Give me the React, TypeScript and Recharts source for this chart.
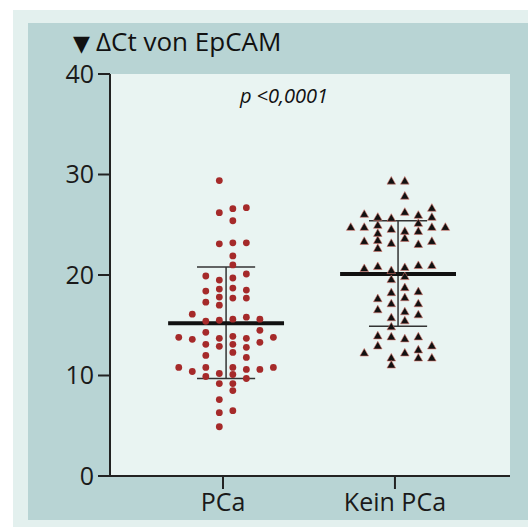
import { ScatterChart, Scatter, XAxis, YAxis, CartesianGrid, ReferenceLine } from "recharts";

const CATEGORIES = ["PCa", "Kein PCa"];
const Y_TICKS = [0, 10, 20, 30, 40];

// ΔCt values per patient
const PCA_VALUES = [
  29.4, 26.2, 26.6, 26.7, 25.4, 23.1, 23.2, 23.2, 21.9, 21.0,
  19.9, 19.5, 19.7, 20.1, 18.4, 18.6, 18.7, 18.5, 17.8, 17.7,
  17.7, 17.3, 17.0, 16.1, 15.4, 15.5, 15.6, 15.8, 15.6, 14.3,
  14.5, 13.8, 13.6, 13.7, 13.9, 13.7, 13.8, 13.3, 13.1, 12.9,
  13.1, 12.8, 12.3, 12.0, 11.8, 10.8, 10.4, 10.8, 10.2, 10.8,
  10.6, 10.6, 10.8, 9.9, 10.1, 9.7, 9.2, 9.2, 8.5, 7.6,
  6.3, 6.5, 4.9,
];
// swarm column of each point (layout only)
const PCA_SLOTS = [
  -0.5, -0.5, 0.5, 1.5, 0.5, -0.5, 0.5, 1.5, 0.5, 0.5,
  -1.5, -0.5, 0.5, 1.5, -1.5, -0.5, 0.5, 1.5, -0.5, 0.5,
  1.5, -1.5, -0.5, -2.5, -1.5, -0.5, 0.5, 1.5, 2.5, -1.5,
  2.5, -3.5, -2.5, -0.5, 0.5, 1.5, 3.5, 2.5, -1.5, -0.5,
  0.5, 1.5, 0.5, -1.5, 1.5, -3.5, -2.5, -1.5, -0.5, 0.5,
  1.5, 2.5, 3.5, -1.5, 0.5, 1.5, -0.5, 0.5, 0.5, -0.5,
  -0.5, 0.5, -0.5,
];

const KEIN_VALUES = [
  29.4, 29.4, 27.9, 26.1, 25.8, 25.7, 26.3, 26.0, 26.7, 25.8,
  24.8, 24.8, 25.0, 24.2, 24.6, 24.4, 25.2, 24.4, 24.8, 24.8,
  23.4, 23.5, 23.2, 23.7, 23.1, 23.4, 22.7, 20.7, 20.9, 20.5,
  20.8, 21.0, 21.0, 19.6, 19.9, 18.8, 18.3, 18.4, 17.7, 17.8,
  17.2, 17.2, 16.6, 16.4, 16.1, 15.8, 15.5, 14.9, 14.0, 13.9,
  13.7, 13.9, 13.0, 13.0, 12.6, 12.3, 12.3, 11.8, 11.8, 11.8,
  11.1,
];
const KEIN_SLOTS = [
  -0.5, 0.5, 0.5, -2.5, -1.5, -0.5, 0.5, 1.5, 2.5, 2.5,
  -3.5, -2.5, -1.5, -1.5, -0.5, 0.5, 1.5, 1.5, 2.5, 3.5,
  -2.5, -1.5, -0.5, 0.5, 1.5, 2.5, -1.5, -2.5, -1.5, -0.5,
  0.5, 1.5, 2.5, -0.5, 0.5, 0.5, -0.5, 1.5, -1.5, 0.5,
  -0.5, 1.5, -1.5, 0.5, 1.5, -0.5, 0.5, -0.5, -1.5, -0.5,
  0.5, 1.5, -1.5, 2.5, 1.5, -2.5, 0.5, -0.5, 1.5, 2.5,
  -0.5,
];

const MEANS = [15.2, 20.1];
const SD_LOW = [9.7, 14.9];
const SD_HIGH = [20.8, 25.4];

const SLOT_W = 0.0786;
const SHIFT = 0.018;
const MEAN_HALF = 0.337;
const CAP_HALF = 0.169;

const toPoints = (values: number[], slots: number[], cat: number) =>
  values.map((v, i) => ({ x: cat + SHIFT + slots[i] * SLOT_W, y: v }));

const pcaData = toPoints(PCA_VALUES, PCA_SLOTS, 1);
const keinData = toPoints(KEIN_VALUES, KEIN_SLOTS, 2);

const Dot = (p: any) => <circle cx={p.cx} cy={p.cy} r={3.4} fill="#a52a2a" />;

const Tri = (p: any) => (
  <polygon
    points={`${p.cx},${p.cy - 4} ${p.cx + 4.3},${p.cy + 3.6} ${p.cx - 4.3},${p.cy + 3.6}`}
    fill="#111"
    stroke="#d8766c"
    strokeWidth={0.6}
  />
);

const FONT = "'Open Sans', sans-serif";

export default function App() {
  return (
    <div style={{ position: "absolute", left: 0, top: 0, width: 528, height: 527, background: "#fff", overflow: "hidden" }}>
      <div style={{ position: "absolute", left: 13, top: 10, width: 515, height: 517, background: "#e3f0ee" }} />
      <div style={{ position: "absolute", left: 28, top: 23, width: 500, height: 497, background: "#b8d4d4" }} />
      <div style={{ position: "absolute", left: 0, top: 0 }}>
        <ScatterChart width={528} height={527} margin={{ top: 74, right: 18, bottom: 11, left: 50 }}>
          <CartesianGrid fill="#e9f4f2" stroke="none" horizontal={false} vertical={false} />
          <XAxis
            type="number"
            dataKey="x"
            domain={[0.343, 2.669]}
            ticks={[1, 2]}
            tickFormatter={(v: number) => CATEGORIES[v - 1]}
            allowDataOverflow
            height={40}
            tickSize={13}
            tickMargin={4}
            axisLine={{ stroke: "#222", strokeWidth: 2 }}
            tickLine={{ stroke: "#222", strokeWidth: 2 }}
            tick={{ fill: "#1a1a1a", fontSize: 25, fontFamily: FONT }}
          />
          <YAxis
            type="number"
            dataKey="y"
            domain={[0, 40]}
            ticks={Y_TICKS}
            width={60}
            tickSize={12}
            tickMargin={4}
            axisLine={{ stroke: "#222", strokeWidth: 2 }}
            tickLine={{ stroke: "#222", strokeWidth: 2 }}
            tick={{ fill: "#1a1a1a", fontSize: 25, fontFamily: FONT }}
          />
          <Scatter data={pcaData} shape={Dot} isAnimationActive={false} />
          <Scatter data={keinData} shape={Tri} isAnimationActive={false} />
          {MEANS.map((m, i) => {
            const c = i + 1 + SHIFT;
            return [
              <ReferenceLine key={`v${i}`} segment={[{ x: c, y: SD_LOW[i] }, { x: c, y: SD_HIGH[i] }]} stroke="#333" strokeWidth={1.5} />,
              <ReferenceLine key={`h${i}`} segment={[{ x: c - CAP_HALF, y: SD_HIGH[i] }, { x: c + CAP_HALF, y: SD_HIGH[i] }]} stroke="#333" strokeWidth={1.5} />,
              <ReferenceLine key={`l${i}`} segment={[{ x: c - CAP_HALF, y: SD_LOW[i] }, { x: c + CAP_HALF, y: SD_LOW[i] }]} stroke="#333" strokeWidth={1.5} />,
              <ReferenceLine key={`m${i}`} segment={[{ x: c - MEAN_HALF, y: m }, { x: c + MEAN_HALF, y: m }]} stroke="#111" strokeWidth={4} />,
            ];
          })}
        </ScatterChart>
      </div>
      <svg width={528} height={527} style={{ position: "absolute", left: 0, top: 0, pointerEvents: "none" }}>
        <text x={73} y={51} fontSize={22} fontFamily="'DejaVu Sans', sans-serif" fill="#111">▼</text>
        <text x={96} y={51} fontSize={26} fontFamily={FONT} fill="#111">ΔCt von EpCAM</text>
        <text x={284} y={103} fontSize={20} fontFamily={FONT} fontStyle="italic" fill="#111" textAnchor="middle">
          p &lt;0,0001
        </text>
      </svg>
    </div>
  );
}
